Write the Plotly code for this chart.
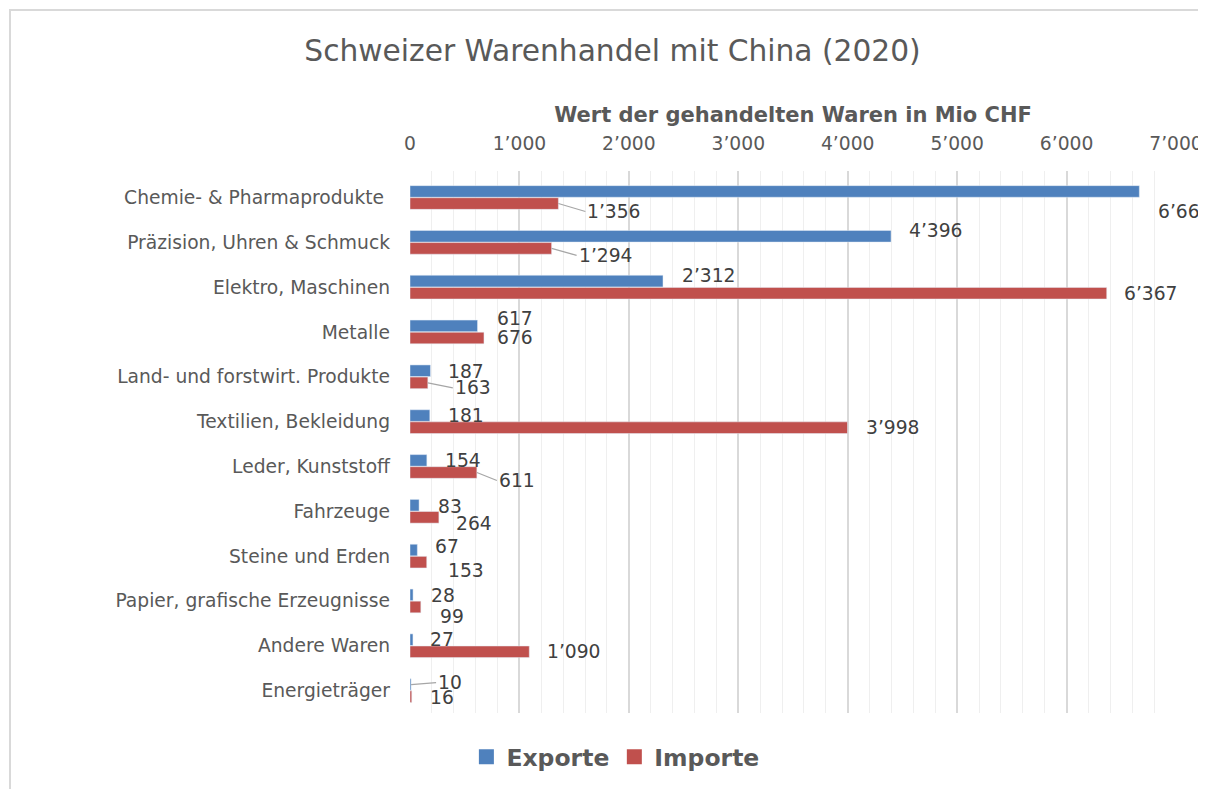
import plotly.graph_objects as go

categories = [
    "Chemie- & Pharmaprodukte ",
    "Präzision, Uhren & Schmuck",
    "Elektro, Maschinen",
    "Metalle",
    "Land- und forstwirt. Produkte",
    "Textilien, Bekleidung",
    "Leder, Kunststoff",
    "Fahrzeuge",
    "Steine und Erden",
    "Papier, grafische Erzeugnisse",
    "Andere Waren",
    "Energieträger",
]
exporte = [6665, 4396, 2312, 617, 187, 181, 154, 83, 67, 28, 27, 10]
importe = [1356, 1294, 6367, 676, 163, 3998, 611, 264, 153, 99, 1090, 16]

x_ticks = [0, 1000, 2000, 3000, 4000, 5000, 6000, 7000]

# label placement (px offset from bar end: dx, dy, leader line?)
exp_label_pos = [(17, 20, False), (16, -6, False), (17, -6, False), (17, -7, False),
                 (16, 1, False), (16, 0, False), (16, 0, False), (17, 1, False),
                 (16, -4, False), (16, 1, False), (15, 0, False), (25, -2, True)]
imp_label_pos = [(27, 8, True), (25, 7, True), (15, 0, False), (11, 0, False),
                 (25, 5, True), (16, 0, False), (20, 8, True), (15, 6, False),
                 (19, 8, False), (17, 10, False), (16, 0, False), (16, 1, False)]

BLUE = "#4F81BD"
RED = "#C0504D"
FONT = "DejaVu Sans"


def fmt(v):
    return f"{v:,}".replace(",", "’")


fig = go.Figure()
fig.add_bar(y=categories, x=exporte, orientation="h", name="Exporte",
            marker_color=BLUE, showlegend=False)
fig.add_bar(y=categories, x=importe, orientation="h", name="Importe",
            marker_color=RED, showlegend=False)
# legend entries with bigger square swatches
for name, col in (("Exporte", BLUE), ("Importe", RED)):
    fig.add_scatter(x=[None], y=[None], mode="markers", name=name,
                    marker=dict(symbol="square", size=15, color=col))

annotations = []
for vals, pos, shift in ((exporte, exp_label_pos, 6), (importe, imp_label_pos, -6)):
    for cat, v, (dx, dy, leader) in zip(categories, vals, pos):
        annotations.append(dict(
            x=v, y=cat, text=fmt(v), yshift=shift,
            showarrow=True, arrowhead=0, arrowwidth=1.2,
            arrowcolor="#a6a6a6" if leader else "rgba(0,0,0,0)",
            ax=dx, ay=dy, xanchor="left", yanchor="middle",
            font=dict(family=FONT, size=18.7, color="#404040"),
        ))

fig.update_layout(
    width=1198, height=781, autosize=False,
    barmode="group", bargap=0.46, bargroupgap=0.04,
    paper_bgcolor="white", plot_bgcolor="white",
    margin=dict(l=402, r=30, t=163, b=76, autoexpand=False),
    font=dict(family=FONT, color="#595959"),
    title=dict(text="Schweizer Warenhandel mit China (2020)", x=0.5046, xref="container",
               y=0.946, yref="container", xanchor="center", yanchor="middle",
               font=dict(size=29.7, color="#595959")),
    legend=dict(orientation="h", x=0.507, xref="container", xanchor="center",
                y=0.041, yref="container", yanchor="middle",
                font=dict(size=23.5, color="#595959", weight="bold"),
                itemwidth=30, tracegroupgap=0),
    annotations=annotations,
    shapes=[dict(type="rect", xref="paper", yref="paper",
                 x0=-0.5222, x1=1.08, y0=-0.25, y1=1.297,
                 line=dict(color="#d9d9d9", width=2), layer="below")],
)
fig.update_xaxes(
    side="top", range=[0, 7000], tickvals=x_ticks, ticktext=[fmt(t) for t in x_ticks],
    showgrid=True, gridcolor="#d9d9d9", gridwidth=1.5, zeroline=False,
    minor=dict(dtick=200, showgrid=True, gridcolor="#efefef", gridwidth=1),
    tickfont=dict(size=18.7, color="#595959"), ticklabelstandoff=16,
    title=dict(text="<b>Wert der gehandelten Waren in Mio CHF</b>", standoff=4,
               font=dict(size=21, color="#595959")),
    automargin=False,
)
fig.update_yaxes(
    autorange="reversed", showgrid=False, zeroline=False,
    tickfont=dict(size=18.7, color="#595959"), ticklabelstandoff=19,
    automargin=False,
)

fig.write_html("out.html")
